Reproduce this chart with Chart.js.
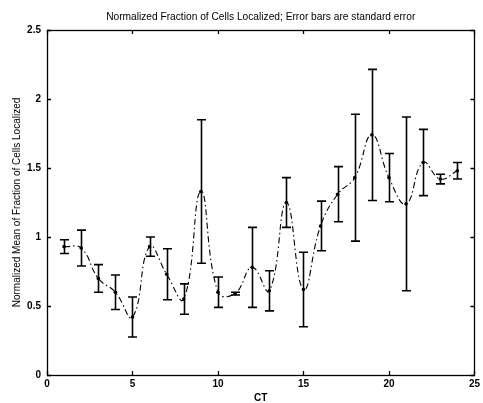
<!DOCTYPE html>
<html>
<head>
<meta charset="utf-8">
<script src="https://cdn.jsdelivr.net/npm/chart.js@4.4.1/dist/chart.umd.min.js"></script>
<style>
  body { margin: 0; background: #fff; }
  #wrap { width: 483px; height: 403px; }
</style>
</head>
<body>
<div id="wrap"><canvas id="canvas_chart"></canvas></div>
<script>
// CT index, normalized mean and standard error
const ctValues = [1, 2, 3, 4, 5, 6, 7, 8, 9, 10, 11, 12, 13, 14, 15, 16, 17, 18, 19, 20, 21, 22, 23, 24];
const meanValues = [0.93, 0.92, 0.70, 0.60, 0.42, 0.93, 0.73, 0.55, 1.33, 0.60, 0.59, 0.78,
                    0.61, 1.25, 0.62, 1.08, 1.31, 1.43, 1.74, 1.43, 1.24, 1.54, 1.42, 1.48];
const stdErrValues = [0.05, 0.13, 0.10, 0.125, 0.145, 0.07, 0.185, 0.11, 0.52, 0.11, 0.01, 0.29,
                      0.145, 0.18, 0.27, 0.18, 0.20, 0.46, 0.475, 0.175, 0.63, 0.24, 0.035, 0.06];
const xTickValues = [0, 5, 10, 15, 20, 25];
const yTickValues = [0, 0.5, 1, 1.5, 2, 2.5];

const titleText = "Normalized Fraction of Cells Localized; Error bars are standard error";
const fontFam = "'Liberation Sans', Arial, Helvetica, sans-serif";

// error bars with caps
const errorBars = {
  id: 'errorBars',
  afterDatasetsDraw(chart) {
    const ctx = chart.ctx, xs = chart.scales.x, ys = chart.scales.y;
    ctx.save();
    ctx.strokeStyle = '#000';
    ctx.lineWidth = 1.6;
    ctValues.forEach((c, i) => {
      const px = Math.round(xs.getPixelForValue(c)) + 0.5;
      const top = ys.getPixelForValue(meanValues[i] + stdErrValues[i]);
      const bot = ys.getPixelForValue(meanValues[i] - stdErrValues[i]);
      ctx.beginPath();
      ctx.moveTo(px, top); ctx.lineTo(px, bot);
      ctx.moveTo(px - 4.5, top); ctx.lineTo(px + 4.5, top);
      ctx.moveTo(px - 4.5, bot); ctx.lineTo(px + 4.5, bot);
      ctx.stroke();
    });
    ctx.restore();
  }
};

// box round the axes, ticks pointing inward, title over the box
const axesBox = {
  id: 'axesBox',
  afterDraw(chart) {
    const ctx = chart.ctx, a = chart.chartArea, xs = chart.scales.x, ys = chart.scales.y;
    ctx.save();
    ctx.strokeStyle = '#000';
    ctx.lineWidth = 1.3;
    ctx.strokeRect(Math.round(a.left) + 0.5, Math.round(a.top) + 0.5,
                   Math.round(a.right - a.left), Math.round(a.bottom - a.top));
    ctx.beginPath();
    xTickValues.forEach(v => {
      const px = Math.round(xs.getPixelForValue(v)) + 0.5;
      ctx.moveTo(px, a.bottom); ctx.lineTo(px, a.bottom - 4);
      ctx.moveTo(px, a.top); ctx.lineTo(px, a.top + 4);
    });
    yTickValues.forEach(v => {
      const py = Math.round(ys.getPixelForValue(v)) + 0.5;
      ctx.moveTo(a.left, py); ctx.lineTo(a.left + 4, py);
      ctx.moveTo(a.right, py); ctx.lineTo(a.right - 4, py);
    });
    ctx.stroke();

    ctx.fillStyle = '#000';
    ctx.font = '10.2px ' + fontFam;
    ctx.textAlign = 'center';
    ctx.textBaseline = 'middle';
    ctx.fillText(titleText, (a.left + a.right) / 2, 17);
    ctx.restore();
  }
};

const getCanvas = document.getElementById('canvas_chart');
let configChart = {
  type: 'line',
  data: {
    datasets: [{
      data: ctValues.map((c, i) => ({ x: c, y: meanValues[i] })),
      borderColor: '#000',
      backgroundColor: '#000',
      borderWidth: 1.1,
      borderDash: [6, 3, 1.5, 3],
      tension: 0.45,
      pointRadius: 1.8,
      pointBorderWidth: 0,
      pointBackgroundColor: '#000'
    }]
  },
  options: {
    responsive: true,
    maintainAspectRatio: false,
    animation: false,
    layout: { padding: { top: 30, right: 3, left: 0, bottom: 0 } },
    plugins: { legend: { display: false }, title: { display: false }, tooltip: { enabled: false } },
    scales: {
      x: {
        type: 'linear',
        min: 0, max: 25,
        grid: { display: false, drawTicks: false },
        border: { display: false },
        afterBuildTicks: s => { s.ticks = xTickValues.map(v => ({ value: v })); },
        afterFit: s => { s.height = 28; },
        ticks: { color: '#000', padding: 3, maxRotation: 0, callback: v => String(v),
                 font: { family: fontFam, size: 10, weight: 'bold' } },
        title: { display: true, text: 'CT', color: '#000', padding: 0,
                 font: { family: fontFam, size: 10, weight: 'bold', lineHeight: 1 } }
      },
      y: {
        min: 0, max: 2.5,
        grid: { display: false, drawTicks: false },
        border: { display: false },
        afterBuildTicks: s => { s.ticks = yTickValues.map(v => ({ value: v })); },
        afterFit: s => { s.width = 47; },
        ticks: { color: '#000', padding: 6, callback: v => String(v),
                 font: { family: fontFam, size: 10, weight: 'bold' } },
        title: { display: true, text: 'Normalized Mean of Fraction of Cells Localized', color: '#000',
                 padding: { top: 12, bottom: 0 }, font: { family: fontFam, size: 10, lineHeight: 1 } }
      }
    }
  },
  plugins: [errorBars, axesBox]
};
const canvas_chart = new Chart(getCanvas, configChart);
</script>
</body>
</html>
